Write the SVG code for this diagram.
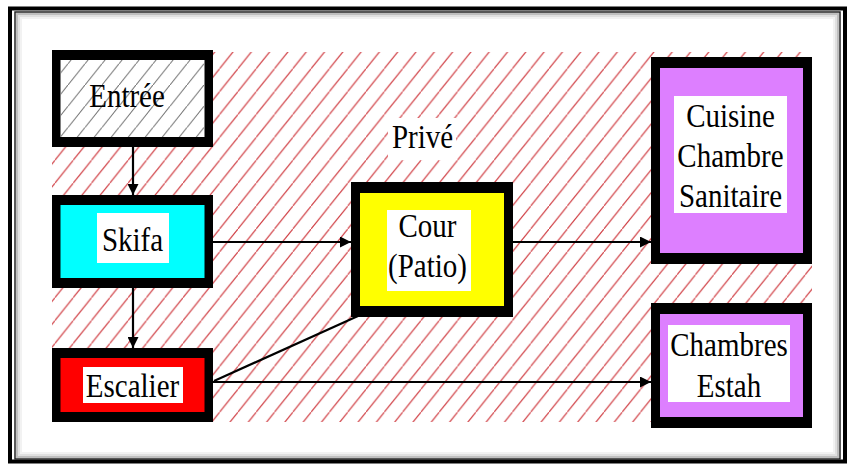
<svg xmlns="http://www.w3.org/2000/svg" width="852" height="465" viewBox="0 0 852 465">
  <style>
    .lbl { font-family: "Liberation Serif", "Times New Roman", "DejaVu Serif", serif; font-size: 29px; fill: #000; text-anchor: middle; }
    .blk { fill: #000; }
    .wht { fill: #fff; }
    .con { stroke: #000; stroke-width: 2.2; fill: none; }
  </style>
  <defs>
    <pattern id="redHatch" patternUnits="userSpaceOnUse" width="18.3" height="22.9">
      <line x1="-1" y1="24.15" x2="19.3" y2="-1.25" stroke="#cf3a40" stroke-width="1.1"/>
    </pattern>
    <pattern id="grayHatch" patternUnits="userSpaceOnUse" width="17" height="21.25">
      <line x1="-1" y1="22.5" x2="18" y2="-1.25" stroke="#6e6e6e" stroke-width="1"/>
    </pattern>
    <marker id="arrow" markerWidth="11" markerHeight="11" refX="11" refY="5.5" orient="auto" markerUnits="userSpaceOnUse">
      <path d="M0,0 L11,5.5 L0,11 Z" fill="#000"/>
    </marker>
  </defs>

  <rect x="0" y="0" width="852" height="465" fill="#fff"/>

  <!-- frame -->
  <g id="frame">
    <rect x="10" y="8.5" width="835" height="453" fill="none" stroke="#000" stroke-width="4"/>
    <rect x="15" y="12" width="825" height="447" fill="none" stroke="#222" stroke-width="1.5"/>
    <rect x="17" y="14" width="821" height="443" fill="none" stroke="#000" stroke-opacity="0.25" stroke-width="2"/>
    <rect x="19" y="16" width="817" height="439" fill="none" stroke="#000" stroke-opacity="0.12" stroke-width="2"/>
    <rect x="21" y="18" width="813" height="435" fill="none" stroke="#000" stroke-opacity="0.05" stroke-width="2"/>
  </g>

  <!-- hatched private area -->
  <g id="prive">
    <rect x="52" y="52" width="760" height="370" fill="url(#redHatch)"/>
    <rect x="388" y="118" width="68" height="42" fill="#fff"/>
    <text class="lbl" transform="translate(422.5,148) scale(1,1.18)">Privé</text>
  </g>

  <!-- connectors -->
  <g id="connectors">
    <line class="con" x1="133" y1="147" x2="133" y2="195" marker-end="url(#arrow)"/>
    <line class="con" x1="133" y1="288" x2="133" y2="348" marker-end="url(#arrow)"/>
    <line class="con" x1="213" y1="242" x2="351" y2="242" marker-end="url(#arrow)"/>
    <line class="con" x1="513" y1="242" x2="651" y2="242" marker-end="url(#arrow)"/>
    <line class="con" x1="213" y1="382" x2="651" y2="382" marker-end="url(#arrow)"/>
    <line class="con" x1="214" y1="381" x2="358" y2="316"/>
  </g>

  <!-- nodes -->
  <g id="entree">
    <rect class="blk" x="52" y="50" width="161" height="97"/>
    <rect class="wht" x="60.5" y="60" width="144" height="77"/>
    <rect x="60.5" y="60" width="144" height="77" fill="url(#grayHatch)"/>
    <text class="lbl" transform="translate(127,107) scale(1,1.18)">Entrée</text>
  </g>

  <g id="skifa">
    <rect class="blk" x="52" y="195" width="161" height="93"/>
    <rect x="60.5" y="205" width="144" height="73" fill="#00ffff"/>
    <rect class="wht" x="97" y="213" width="72" height="50"/>
    <text class="lbl" transform="translate(132.5,251) scale(1,1.18)">Skifa</text>
  </g>

  <g id="escalier">
    <rect class="blk" x="52" y="348" width="161" height="74"/>
    <rect x="60.5" y="358" width="144" height="54" fill="#ff0000"/>
    <rect class="wht" x="83" y="367" width="100" height="36"/>
    <text class="lbl" transform="translate(132.5,397) scale(1,1.18)">Escalier</text>
  </g>

  <g id="cour">
    <rect class="blk" x="351" y="182" width="162" height="135"/>
    <rect x="360" y="193" width="144" height="113" fill="#ffff00"/>
    <rect class="wht" x="387" y="210" width="84" height="81"/>
    <text class="lbl" transform="translate(427.5,237) scale(1,1.18)"><tspan x="0" y="0">Cour</tspan><tspan x="0" y="33.9">(Patio)</tspan></text>
  </g>

  <g id="cuisine">
    <rect class="blk" x="651" y="57" width="161" height="207"/>
    <rect x="660" y="68" width="143" height="185" fill="#dd7fff"/>
    <rect class="wht" x="674" y="96" width="113" height="117"/>
    <text class="lbl" transform="translate(730.5,127) scale(1,1.18)"><tspan x="0" y="0">Cuisine</tspan><tspan x="0" y="33.9">Chambre</tspan><tspan x="0" y="67.8">Sanitaire</tspan></text>
  </g>

  <g id="chambres">
    <rect class="blk" x="651" y="303" width="161" height="125"/>
    <rect x="660" y="314" width="143" height="103" fill="#dd7fff"/>
    <rect class="wht" x="668" y="325" width="122" height="77"/>
    <text class="lbl" transform="translate(729,356) scale(1,1.18)"><tspan x="0" y="0">Chambres</tspan><tspan x="0" y="34.7">Estah</tspan></text>
  </g>
</svg>
